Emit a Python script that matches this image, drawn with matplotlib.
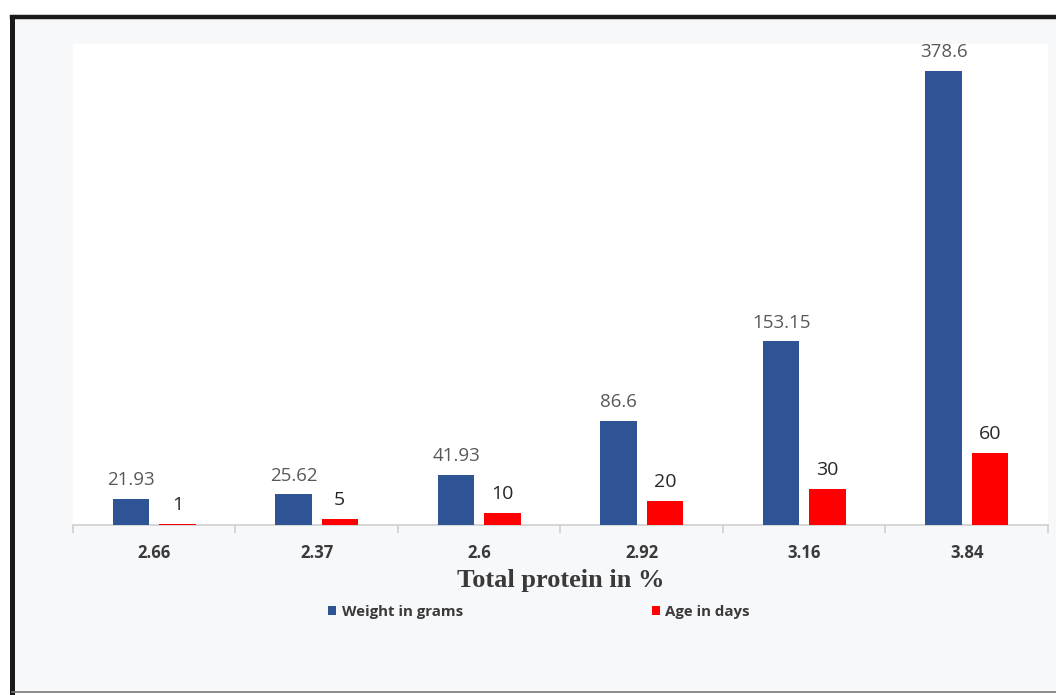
import numpy as np
import matplotlib.pyplot as plt
from matplotlib.patches import Rectangle
from matplotlib.lines import Line2D

categories = ["2.66", "2.37", "2.6", "2.92", "3.16", "3.84"]
weight = [21.93, 25.62, 41.93, 86.6, 153.15, 378.6]
age = [1, 5, 10, 20, 30, 60]
weight_labels = ["21.93", "25.62", "41.93", "86.6", "153.15", "378.6"]
age_labels = ["1", "5", "10", "20", "30", "60"]

blue = "#2f5496"
red = "#ff0000"

fig = plt.figure(figsize=(10.56, 6.95), dpi=100)
fig.patch.set_facecolor("white")

# framed panel behind the chart
fig.patches.append(Rectangle((0.0115, 0.004), 1.0, 0.9715, transform=fig.transFigure,
                             facecolor="#f7f8fa", edgecolor="none", zorder=-2))
fig.add_artist(Line2D([0.0115, 1.0], [0.9755, 0.9755], transform=fig.transFigure,
                      color="#1a1a1a", lw=3.2, zorder=-1))
fig.add_artist(Line2D([0.0115, 0.0115], [0.004, 0.9755], transform=fig.transFigure,
                      color="#1a1a1a", lw=3.6, zorder=-1))
fig.add_artist(Line2D([0.0115, 1.0], [0.004, 0.004], transform=fig.transFigure,
                      color="#777777", lw=1.2, zorder=-1))

ax = fig.add_axes([0.0691, 0.2446, 0.9233, 0.6921])
ax.set_facecolor("white")

x = np.arange(len(categories))
w = 0.225
off = 0.142
b1 = ax.bar(x - off, weight, w, color=blue, label="Weight in grams", zorder=3)
b2 = ax.bar(x + off, age, w, color=red, label="Age in days", zorder=3)

ax.bar_label(b1, labels=weight_labels, padding=7, color="#595959", fontsize=13.5,
             family="Open Sans")
ax.bar_label(b2, labels=age_labels, padding=7, color="#262626", fontsize=14,
             family="Open Sans")

ax.set_xlim(-0.5, len(categories) - 0.5)
ax.set_ylim(0, 401)
ax.set_yticks([])
for s in ["top", "right", "left"]:
    ax.spines[s].set_visible(False)
ax.spines["bottom"].set_color("#d0d0d0")
ax.spines["bottom"].set_linewidth(1.2)

ax.set_xticks(x)
ax.set_xticklabels(categories, fontsize=12, fontweight="bold", color="#3a3a3a",
                   family="Open Sans")
ax.tick_params(axis="x", which="major", length=0, pad=14)
ax.set_xticks(np.arange(-0.5, len(categories), 1.0), minor=True)
ax.tick_params(axis="x", which="minor", length=6, color="#d0d0d0", width=1.2)

ax.set_xlabel("Total protein in %", fontsize=19, fontweight="bold", color="#3a3a3a",
              family="Liberation Serif", labelpad=5)

fig.legend(handles=[b1, b2], loc="center", bbox_to_anchor=(539 / 1056, 1 - 612 / 695),
           ncol=2, frameon=False, handlelength=0.55, handleheight=0.55, handletextpad=0.35,
           columnspacing=12.6, prop={"family": "Open Sans", "weight": "bold", "size": 10.8},
           labelcolor="#3a3a3a")

fig.savefig("out.png", dpi=100)
